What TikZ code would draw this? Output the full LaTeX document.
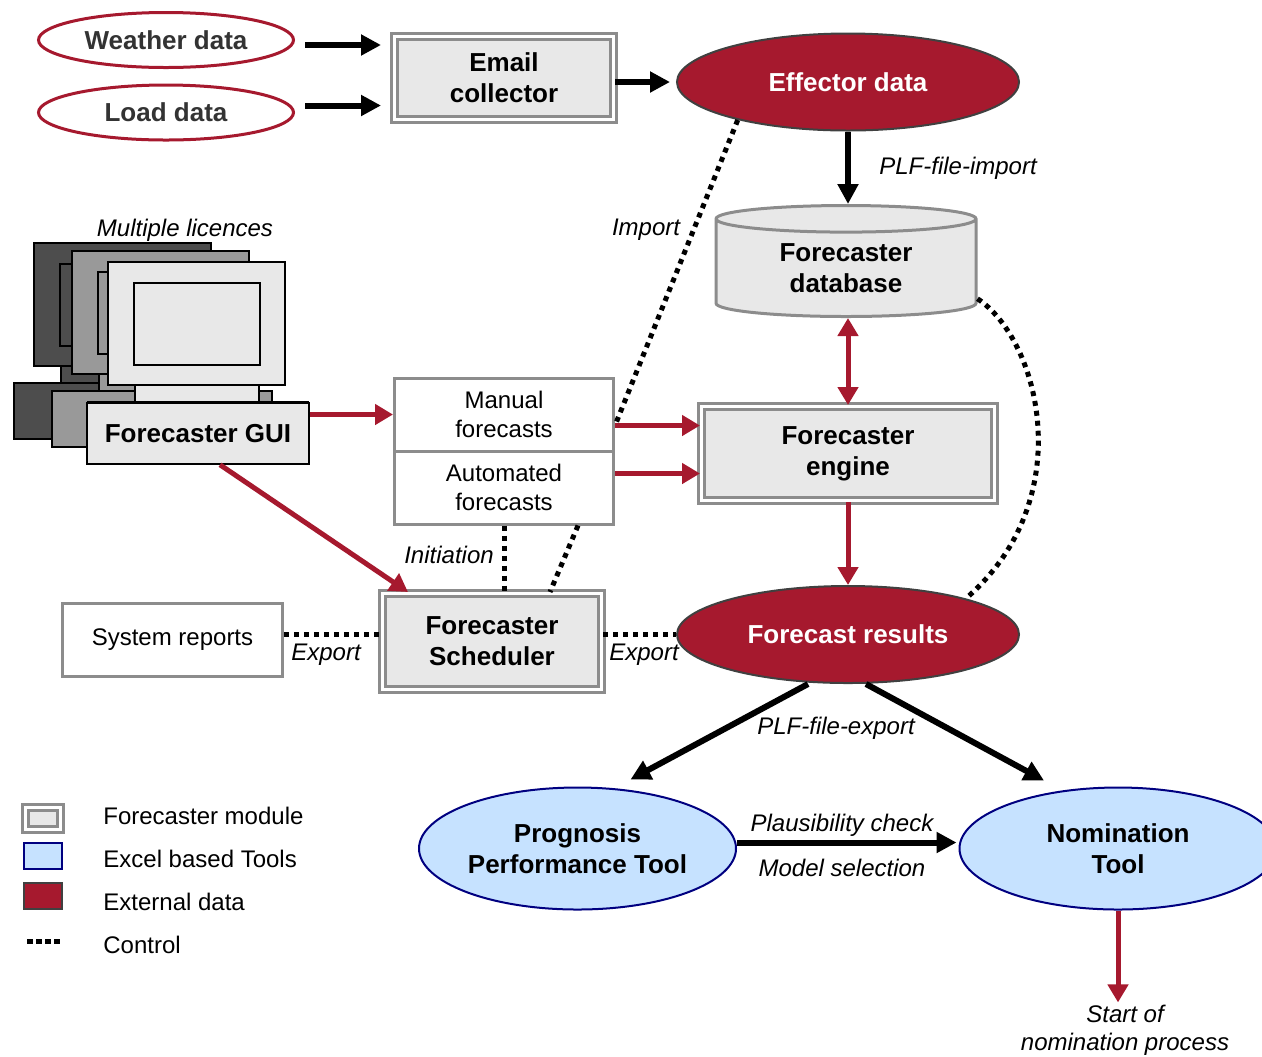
\documentclass[tikz,border=0pt]{standalone}
\usepackage{fontspec}
\setmainfont{Liberation Sans}
\usetikzlibrary{shapes.geometric, arrows.meta}
\definecolor{extred}{RGB}{166,25,46}
\definecolor{darkline}{RGB}{64,64,64}
\definecolor{rawtext}{RGB}{51,51,51}
\definecolor{toolblue}{RGB}{198,226,255}
\definecolor{toolnavy}{RGB}{0,0,128}
\definecolor{modgray}{RGB}{232,232,232}
\definecolor{modline}{RGB}{140,140,140}
\definecolor{pcdark}{RGB}{77,77,77}
\definecolor{pcmid}{RGB}{153,153,153}
\newcommand{\nodebold}{\fontsize{13}{15.5}\selectfont\bfseries}
\newcommand{\noderegular}{\fontsize{12}{14.5}\selectfont}
\newcommand{\labelit}{\fontsize{12}{14}\selectfont\itshape}
\newcommand{\workstation}[3]{
\path (#1,#2) coordinate (mon);
\filldraw[pcline, fill=#3] (mon) ++(-20,140) rectangle ++(220,56);
\filldraw[pcline, fill=#3] (mon) ++(27,123) rectangle ++(124,17);
\filldraw[pcline, fill=#3] (mon) rectangle ++(177,123);
\filldraw[pcline, fill=#3] (mon) ++(26,21) rectangle ++(126,82);
}
\begin{document}
\begin{tikzpicture}[x=0.5pt, y=-0.5pt,
% forecaster modules
module/.style={rectangle, draw=modline, line width=1.5pt, double=white, double distance=1.5pt, fill=modgray, align=center, inner sep=0, font=\nodebold},
plainbox/.style={rectangle, draw=modline, line width=1.5pt, fill=white, align=center, inner sep=0, font=\noderegular},
% data
extdata/.style={ellipse, draw=darkline, line width=1pt, fill=extred, text=white, inner sep=0, minimum width=171pt, minimum height=48.5pt, font=\nodebold},
rawdata/.style={ellipse, draw=extred, line width=1.5pt, fill=white, text=rawtext, inner sep=0, minimum width=127.5pt, minimum height=27.5pt, font=\nodebold},
% excel tools
tool/.style={ellipse, draw=toolnavy, line width=1pt, fill=toolblue, align=center, inner sep=0, minimum width=158.5pt, minimum height=61pt, font=\nodebold},
% connectors
blackarrow/.style={line width=3pt, -{Triangle[length=10pt,width=10pt]}},
redarrow/.style={extred, line width=2.5pt, -{Triangle[length=9pt,width=10pt]}},
control/.style={line width=2.5pt, dash pattern=on 2.5pt off 2.5pt},
lbl/.style={font=\labelit, inner sep=1pt, align=center},
legtext/.style={font=\noderegular, anchor=west, inner sep=0},
pcline/.style={draw=black, line width=0.75pt}
]
\useasboundingbox (0,0) rectangle (1262,1056);

% workstations
\workstation{34}{243}{pcdark}
\workstation{72}{251}{pcmid}
\workstation{108}{262}{modgray}

% inputs
\node[rawdata] (weather) at (166,40) {Weather data};
\node[rawdata] (load) at (166,112.5) {Load data};
\node[module, minimum width=109.5pt, minimum height=41.5pt] (email) at (504,78) {Email\\collector};
\node[extdata] (effector) at (848,82) {Effector data};

% forecaster core
\node[cylinder, shape border rotate=90, shape aspect=0.2, draw=modline, line width=1.5pt, fill=modgray, minimum width=130pt, minimum height=55.5pt, inner sep=0, align=center, font=\nodebold, anchor=shape center] (database) at (846,261) {Forecaster\\database};
\node[module, minimum width=146.5pt, minimum height=47pt] (engine) at (848,453.5) {Forecaster\\engine};
\node[extdata] (results) at (848,634.5) {Forecast results};
\node[plainbox, minimum width=109.5pt, minimum height=36.5pt] (manual) at (504,414.5) {Manual\\forecasts};
\node[plainbox, minimum width=109.5pt, minimum height=36.5pt] (automated) at (504,487.5) {Automated\\forecasts};
\node[rectangle, draw=black, line width=0.75pt, fill=modgray, minimum width=111pt, minimum height=30.5pt, inner sep=0, font=\nodebold] (gui) at (198,433.5) {Forecaster GUI};
\node[module, minimum width=109.5pt, minimum height=48pt] (scheduler) at (492,641.5) {Forecaster\\Scheduler};
\node[plainbox, minimum width=110pt, minimum height=36.5pt] (sysrep) at (172.5,640) {System reports};

% tools
\node[tool] (ppt) at (577.5,848.5) {Prognosis\\Performance Tool};
\node[tool] (nomtool) at (1118,848.5) {Nomination\\Tool};
\node[lbl] (startnom) at (1125,1030) {Start of\\nomination process};

% labels
\node[lbl] (licences) at (185,230) {Multiple licences};
\node[lbl] (plfimport) at (958,168) {PLF-file-import};
\node[lbl] (import) at (646,230) {Import};
\node[lbl] (initiation) at (449,555) {Initiation};
\node[lbl] (exportL) at (326,655) {Export};
\node[lbl] (exportR) at (644,655) {Export};
\node[lbl] (plfexport) at (836,728) {PLF-file-export};
\node[lbl] (plausible) at (842,825) {Plausibility check};
\node[lbl] (modelsel) at (842,868) {Model selection};

% data flow
\draw[blackarrow, shorten <=5pt, shorten >=6pt] ([yshift=-2.5pt]weather.east) -- ([yshift=-2.5pt]weather.east -| email.west);
\draw[blackarrow, shorten <=5pt, shorten >=6pt] ([yshift=3.5pt]load.east) -- ([yshift=3.5pt]load.east -| email.west);
\draw[blackarrow, shorten >=3pt] (email.east |- effector) -- (effector.west);
\draw[blackarrow] (effector.south) -- (effector.south |- database.north);
\draw[redarrow, {Triangle[length=9pt,width=10pt]}-{Triangle[length=9pt,width=10pt]}] (engine.north |- database.south) -- (engine.north);
\draw[redarrow] (gui.east |- manual) -- (manual.west);
\draw[redarrow] ([yshift=-5.5pt]manual.east) -- ([yshift=-5.5pt]manual.east -| engine.west);
\draw[redarrow] ([yshift=7pt]automated.east) -- ([yshift=7pt]automated.east -| engine.west);
\draw[redarrow] ([xshift=11pt]gui.south) -- ([xshift=13.5pt]scheduler.north west);
\draw[redarrow] (engine.south) -- (results.north);
\draw[blackarrow] ([xshift=-20pt]results.south) -- ([xshift=26.5pt,yshift=3.5pt]ppt.north);
\draw[blackarrow] ([xshift=9pt]results.south) -- ([xshift=-37pt,yshift=3pt]nomtool.north);
\draw[blackarrow, shorten >=1pt] ([yshift=3pt]ppt.east) -- ([yshift=3pt]ppt.east -| nomtool.west);
\draw[redarrow] (nomtool.south) -- (nomtool.south |- startnom.north);

% control
\draw[control] (effector.199) -- ([yshift=-5.5pt]manual.east);
\draw[control] (database.-13) .. controls (1040,340) and (1080,500) .. (results.17);
\draw[control] (automated.south) -- (automated.south |- scheduler.north);
\draw[control] ([xshift=-18.5pt]automated.south east) -- ([xshift=-26.5pt]scheduler.north east);
\draw[control] (sysrep.east |- results) -- (scheduler.west |- results);
\draw[control] (scheduler.east |- results) -- (results.west);

% legend
\node[module, minimum width=17.5pt, minimum height=11pt] (legmodule) at (43,818.5) {};
\node[rectangle, draw=toolnavy, line width=1pt, fill=toolblue, minimum width=19pt, minimum height=13pt, inner sep=0] (legexcel) at (43,856) {};
\node[rectangle, draw=darkline, line width=1pt, fill=extred, minimum width=19pt, minimum height=13pt, inner sep=0] (legext) at (43,896) {};
\coordinate (ctrlA) at (27,941);
\coordinate (ctrlB) at (63,941);
\draw[control, dash pattern=on 3pt off 1.5pt] (ctrlA) -- (ctrlB);
\node[legtext] (legmoduletxt) at (103,816) {Forecaster module};
\node[legtext] (legexceltxt) at (103,859) {Excel based Tools};
\node[legtext] (legexttxt) at (103,902) {External data};
\node[legtext] (legctrltxt) at (103,945) {Control};

\end{tikzpicture}
\end{document}
